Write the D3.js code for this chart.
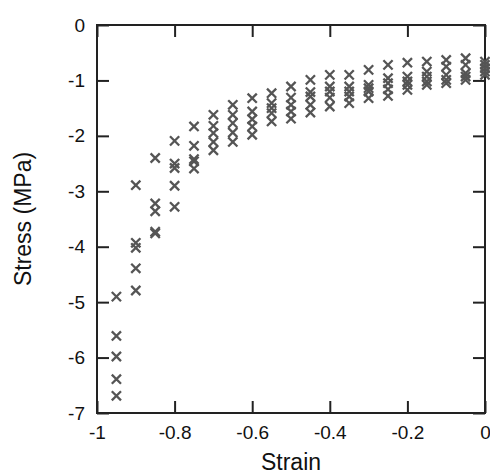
<!DOCTYPE html>
<html>
<head>
<meta charset="utf-8">
<script src="https://cdn.jsdelivr.net/npm/d3@7/dist/d3.min.js"></script>
<style>
  html, body { margin: 0; padding: 0; background: #fff; }
  svg { display: block; }
  text { font-family: "Liberation Sans", Arial, Helvetica, sans-serif; fill: #111; }
</style>
</head>
<body>
<svg id="chart" width="490" height="476"></svg>
<script>
// Strain steps shared by every specimen
const strain = [-0.95, -0.9, -0.85, -0.8, -0.75, -0.7, -0.65, -0.6, -0.55, -0.5,
                -0.45, -0.4, -0.35, -0.3, -0.25, -0.2, -0.15, -0.1, -0.05, 0];

// Measured stress (MPa) for five specimens at each strain step
const stressA = [-4.90, -2.89, -2.40, -2.09, -1.83, -1.62, -1.44, -1.32, -1.23, -1.11,
                 -0.99, -0.90, -0.90, -0.81, -0.72, -0.68, -0.66, -0.63, -0.60, -0.66];
const stressB = [-5.61, -3.93, -3.22, -2.50, -2.18, -1.82, -1.62, -1.56, -1.41, -1.31,
                 -1.21, -1.11, -1.11, -1.08, -0.96, -0.93, -0.84, -0.75, -0.72, -0.72];
const stressC = [-5.98, -4.02, -3.36, -2.58, -2.42, -1.95, -1.77, -1.70, -1.50, -1.44,
                 -1.29, -1.20, -1.20, -1.14, -1.05, -1.02, -0.93, -0.90, -0.87, -0.78];
const stressD = [-6.39, -4.39, -3.73, -2.90, -2.46, -2.11, -1.94, -1.83, -1.59, -1.56,
                 -1.44, -1.31, -1.29, -1.20, -1.16, -1.08, -1.02, -0.99, -0.93, -0.84];
const stressE = [-6.69, -4.79, -3.76, -3.28, -2.59, -2.26, -2.11, -1.98, -1.74, -1.69,
                 -1.58, -1.47, -1.41, -1.32, -1.28, -1.17, -1.08, -1.05, -0.99, -0.90];

// Axis ticks and their labels
const xTicks = [-1, -0.8, -0.6, -0.4, -0.2, 0];
const xTickLabels = ["-1", "-0.8", "-0.6", "-0.4", "-0.2", "0"];
const yTicks = [0, -1, -2, -3, -4, -5, -6, -7];
const yTickLabels = ["0", "-1", "-2", "-3", "-4", "-5", "-6", "-7"];

const svg = d3.select("#chart");
const margin = { left: 97, right: 5, top: 25, bottom: 63 };
const W = 490, H = 476;
const plotW = W - margin.left - margin.right;
const plotH = H - margin.top - margin.bottom;

const x = d3.scaleLinear().domain([-1, 0]).range([margin.left, margin.left + plotW]);
const y = d3.scaleLinear().domain([-7, 0]).range([margin.top + plotH, margin.top]);

const tickLen = 12;
const fmtX = d => xTickLabels[xTicks.indexOf(d)];
const fmtY = d => yTickLabels[yTicks.indexOf(d)];

// Bottom axis with labels
const gx = svg.append("g")
  .attr("transform", `translate(0,${margin.top + plotH})`)
  .call(d3.axisBottom(x).tickValues(xTicks).tickFormat(fmtX)
        .tickSizeInner(-tickLen).tickSizeOuter(0).tickPadding(13));
// Left axis with labels
const gy = svg.append("g")
  .attr("transform", `translate(${margin.left},0)`)
  .call(d3.axisLeft(y).tickValues(yTicks).tickFormat(fmtY)
        .tickSizeInner(-tickLen).tickSizeOuter(0).tickPadding(12));
// Mirrored ticks on top and right
const gt = svg.append("g")
  .attr("transform", `translate(0,${margin.top})`)
  .call(d3.axisTop(x).tickValues(xTicks).tickFormat("")
        .tickSizeInner(-tickLen).tickSizeOuter(0));
const gr = svg.append("g")
  .attr("transform", `translate(${margin.left + plotW},0)`)
  .call(d3.axisRight(y).tickValues(yTicks).tickFormat("")
        .tickSizeInner(-tickLen).tickSizeOuter(0));

[gx, gy, gt, gr].forEach(g => {
  g.select(".domain").remove();
  g.selectAll(".tick line").attr("stroke", "#222").attr("stroke-width", 2);
  g.selectAll(".tick text").attr("font-size", 19).attr("fill", "#111")
    .attr("font-family", '"Liberation Sans", Arial, Helvetica, sans-serif');
});

// Plot frame
svg.append("rect")
  .attr("x", x(-1)).attr("y", y(0))
  .attr("width", x(0) - x(-1)).attr("height", y(-7) - y(0))
  .attr("fill", "none").attr("stroke", "#222").attr("stroke-width", 2);

// Cross markers for every specimen
const series = [stressA, stressB, stressC, stressD, stressE];
const points = [];
series.forEach(vals => vals.forEach((v, i) => points.push({ s: strain[i], v })));

const r = 4.6;
const marks = svg.append("g").attr("stroke", "#555").attr("stroke-width", 2.3)
  .attr("stroke-linecap", "butt");
marks.selectAll("path").data(points).join("path")
  .attr("d", d => {
    const cx = x(d.s), cy = y(d.v);
    return `M${cx - r},${cy - r}L${cx + r},${cy + r}M${cx - r},${cy + r}L${cx + r},${cy - r}`;
  })
  .attr("fill", "none");

// Axis titles
svg.append("text")
  .attr("x", (x(-1) + x(0)) / 2).attr("y", 470)
  .attr("text-anchor", "middle").attr("font-size", 23)
  .text("Strain");
svg.append("text")
  .attr("transform", `translate(31,${(y(0) + y(-7)) / 2}) rotate(-90)`)
  .attr("text-anchor", "middle").attr("font-size", 23)
  .text("Stress (MPa)");
</script>
</body>
</html>
